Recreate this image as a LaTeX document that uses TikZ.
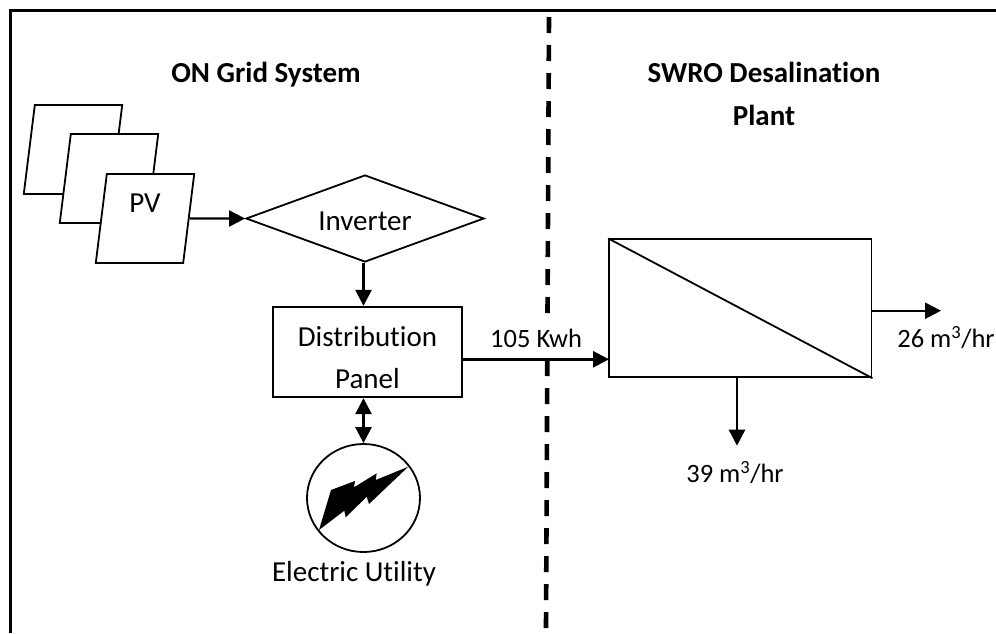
\documentclass[tikz,border=0pt]{standalone}
\usepackage{fontspec}
\setmainfont{Carlito}[Ligatures=NoCommon]
\usetikzlibrary{arrows.meta,shapes.geometric,positioning}
\tikzset{
  panel/.style={draw,fill=white,line width=1.8pt,shape=trapezium,trapezium left angle=77.6,trapezium right angle=102.4,trapezium stretches=true,minimum width=98.5pt,minimum height=89pt,inner sep=1pt},
  box/.style={draw,fill=white,line width=1.8pt,inner sep=0pt},
  flow/.style={line width=2.6pt},
  divider/.style={line width=4.6pt,dash pattern=on 16pt off 12pt},
  label/.style={font=\fontsize{29}{34}\selectfont,inner sep=0pt},
  flowlabel/.style={font=\fontsize{26.5}{31}\selectfont,inner sep=0pt},
  heading/.style={font=\fontsize{29}{34}\selectfont\bfseries,inner sep=0pt},
}
\begin{document}
\begin{tikzpicture}[x=1pt,y=-1pt,>={Triangle[length=16pt,width=16pt]},on grid]
  \useasboundingbox (0,0) rectangle (996,633);
  \coordinate (framebottom) at (10,633);
  \coordinate (framecorner) at (10,10);
  \coordinate (frameright) at (996,10);
  \coordinate (dashtop) at (549,17);
  \coordinate (dashmid) at (547.5,313);
  \coordinate (dashlow) at (547.3,360);
  \coordinate (dashbottom) at (546,628);
  \draw[line width=3pt,line join=miter] (framebottom) -- (framecorner) -- (frameright);
  \draw[divider] (dashtop) -- (dashmid);
  \draw[divider] (dashlow) -- (dashbottom);
  % titles
  \node[heading] (ongrid) at (266,74.5) {ON Grid System};
  \node[heading] (swro) at (764,72) {SWRO Desalination};
  \node[heading] (plant) [below = 43pt of swro] {Plant};
  % pv array
  \node[panel] (pv1) at (73,149.5) {\phantom{PV}};
  \node[panel] (pv2) [below right = 29pt and 36pt of pv1] {\phantom{PV}};
  \node[panel] (pv3) [below right = 40pt and 36pt of pv2] {\phantom{PV}};
  \node[label] (pv) [above = 15pt of pv3] {PV};
  \node[draw,line width=1.8pt,shape=diamond,aspect=2.7,minimum width=238pt,minimum height=87pt,inner sep=0pt] (inverter) [right = 220pt of pv3] {};
  \node[label] (invertername) [below = 3pt of inverter] {Inverter};
  \node[box,minimum width=189.5pt,minimum height=90.5pt] (dist) [below right = 133.5pt and 2.5pt of inverter] {};
  \node[label] (distname) [above = 15pt of dist] {Distribution};
  \node[label] (distname2) [below = 27pt of dist] {Panel};
  \node[draw,line width=1.8pt,shape=ellipse,minimum width=113pt,minimum height=108pt,inner sep=0pt] (utility) at (363.5,498) {};
  \fill (408.3,466.7) -- (375.7,480) -- (376.7,473.3) -- (354,487.3) -- (355,481) -- (331,490)
    -- (319,530) -- (344.3,510.7) -- (345.7,517.3) -- (366.7,496.7) -- (369,504) -- cycle;
  \node[label] (utilityname) [below left = 76pt and 9.5pt of utility] {Electric Utility};
  % membrane
  \node[box,minimum width=262.5pt,minimum height=138pt] (membrane) at (740.3,308.3) {};
  \draw[line width=1.8pt] (membrane.north west) -- (membrane.south east);
  \coordinate (feed) at (609,359.3);
  \coordinate (permeate) at (941,310.7);
  \coordinate (brine) at (737,445.7);
  \node[flowlabel] (permeatename) at (946,338) {26 m\textsuperscript{3}/hr};
  \node[flowlabel] (brinename) at (735,473) {39 m\textsuperscript{3}/hr};
  \path[->,flow]
  (pv3.east) edge [line width=2.2pt] (inverter.west)
  (utility.north |- inverter.south) edge [] (utility.north |- dist.north)
  (dist.east |- feed) edge [] node [above=10pt,flowlabel] (power) {105 Kwh} (feed)
  (membrane.east |- permeate) edge [line width=2.2pt] (permeate)
  (brine |- membrane.south) edge [] (brine)
  ;
  \path[<->,flow]
  (utility.north |- dist.south) edge [] (utility.north)
  ;
\end{tikzpicture}
\end{document}
